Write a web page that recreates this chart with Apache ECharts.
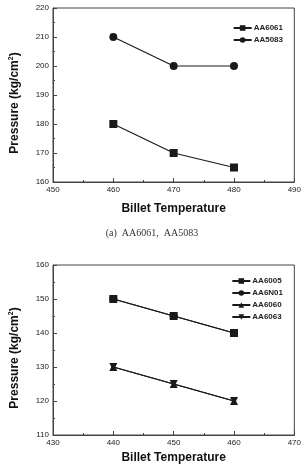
<!DOCTYPE html>
<html>
<head>
<meta charset="utf-8">
<script src="https://cdn.jsdelivr.net/npm/echarts@6/dist/echarts.min.js"></script>
<style>
  html, body { margin: 0; padding: 0; background: #fff; }
  #chart { width: 304px; height: 465px; }
</style>
</head>
<body>
<div id="chart"></div>
<script>
// (a) top panel
const tempsA = [460, 470, 480]
const aa6061 = [180, 170, 165]
const aa5083 = [210, 200, 200]
// (b) bottom panel
const tempsB = [440, 450, 460]
const aa6005 = [150, 145, 140]
const aa6n01 = [150, 145, 140]
const aa6060 = [130, 125, 120]
const aa6063 = [130, 125, 120]

const ink = '#1a1a1a'
const sans = 'Liberation Sans, Arial, sans-serif'

function pairs(xs, ys) {
	return xs.map((x, i) => [x, ys[i]])
}

function xAxisFor(gridIndex, min, max, nameGap) {
	return {
		gridIndex,
		type: 'value',
		min,
		max,
		interval: 10,
		name: 'Billet Temperature',
		nameLocation: 'middle',
		nameGap,
		nameTextStyle: { fontFamily: sans, fontSize: 12, fontWeight: 'bold', color: '#111' },
		axisLine: { show: true, lineStyle: { color: '#444', width: 1 } },
		axisTick: { show: true, inside: true, length: 4, lineStyle: { color: '#444' } },
		minorTick: { show: true, splitNumber: 2, length: 2, lineStyle: { color: '#444' } },
		axisLabel: { fontFamily: sans, fontSize: 8, color: '#222', margin: 4 },
		splitLine: { show: false }
	}
}

function yAxisFor(gridIndex, min, max) {
	return {
		gridIndex,
		type: 'value',
		min,
		max,
		interval: 10,
		name: 'Pressure (kg/cm{sup|2})',
		nameLocation: 'middle',
		nameGap: 31,
		nameRotate: 90,
		nameTextStyle: {
			fontFamily: sans,
			fontSize: 12,
			fontWeight: 'bold',
			color: '#111',
			padding: [0, 16, 0, 0],
			rich: { sup: { fontFamily: sans, fontSize: 7, fontWeight: 'bold', color: '#111', padding: [0, 0, 7, 0] } }
		},
		axisLine: { show: true, lineStyle: { color: '#444', width: 1 } },
		axisTick: { show: true, inside: true, length: 4, lineStyle: { color: '#444' } },
		minorTick: { show: true, splitNumber: 2, length: 2, lineStyle: { color: '#444' } },
		axisLabel: { fontFamily: sans, fontSize: 8, color: '#222', margin: 4 },
		splitLine: { show: false }
	}
}

function line(name, idx, data, symbol, rotate) {
	return {
		name,
		type: 'line',
		xAxisIndex: idx,
		yAxisIndex: idx,
		data,
		symbol,
		symbolRotate: rotate || 0,
		symbolSize: 8,
		itemStyle: { color: ink },
		lineStyle: { color: ink, width: 1.2 }
	}
}

const legendBase = {
	orient: 'vertical',
	right: 16,
	itemWidth: 18,
	itemHeight: 7,
	itemGap: 4,
	textStyle: { fontFamily: sans, fontSize: 8, fontWeight: 'bold', color: '#222', padding: [0, 0, 0, -3] }
}

const chart = echarts.init(document.getElementById('chart'), null, { renderer: 'canvas' })

chart.setOption({
	animation: false,
	backgroundColor: '#fff',
	title: {
		text: '(a)  AA6061,  AA5083',
		left: 'center',
		top: 223,
		textStyle: { fontFamily: 'Liberation Serif, Times New Roman, serif', fontSize: 10, fontWeight: 'normal', color: '#333' }
	},
	legend: [
		Object.assign({}, legendBase, { top: 19, data: ['AA6061', 'AA5083'] }),
		Object.assign({}, legendBase, { top: 272, data: ['AA6005', 'AA6N01', 'AA6060', 'AA6063'] })
	],
	grid: [
		{ left: 50, right: 7, top: 8, height: 174, show: true, borderColor: '#444', borderWidth: 1 },
		{ left: 51, right: 8, top: 265, height: 170, show: true, borderColor: '#444', borderWidth: 1 }
	],
	xAxis: [xAxisFor(0, 450, 490, 21), xAxisFor(1, 430, 470, 17)],
	yAxis: [yAxisFor(0, 160, 220), yAxisFor(1, 110, 160)],
	series: [
		line('AA6061', 0, pairs(tempsA, aa6061), 'rect'),
		line('AA5083', 0, pairs(tempsA, aa5083), 'circle'),
		line('AA6005', 1, pairs(tempsB, aa6005), 'rect'),
		line('AA6N01', 1, pairs(tempsB, aa6n01), 'circle'),
		line('AA6060', 1, pairs(tempsB, aa6060), 'triangle'),
		line('AA6063', 1, pairs(tempsB, aa6063), 'triangle', 180)
	]
})
</script>
</body>
</html>
